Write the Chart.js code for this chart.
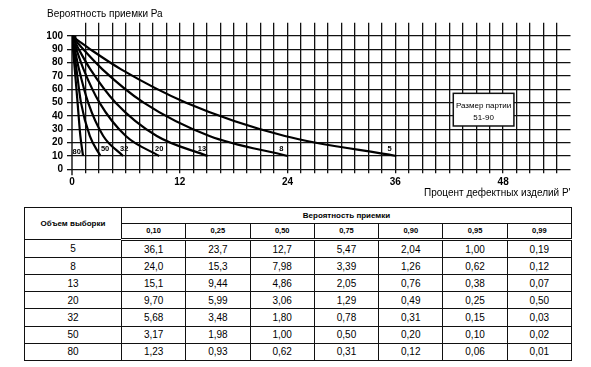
<!DOCTYPE html>
<html><head><meta charset="utf-8">
<script src="https://cdn.jsdelivr.net/npm/chart.js@4"></script>
<style>
html,body{margin:0;padding:0;background:#fff;}
body{width:591px;height:367px;position:relative;overflow:hidden;font-family:"Liberation Sans",Arial,sans-serif;}
#wrap{position:absolute;left:0;top:0;width:591px;height:205px;}
#tbl{position:absolute;left:24px;top:207px;border-collapse:collapse;table-layout:fixed;width:548px;border:1.6px solid #111;}
#tbl td{border:1px solid #111;text-align:center;padding:0;font-size:10px;color:#000;line-height:11px;}
#tbl tr.h1 td{height:14.6px;font-size:8px;font-weight:bold;}
#tbl tr.h2 td{height:14.5px;font-size:7.5px;font-weight:bold;border-bottom:3px double #111;}
#tbl tr.d td{height:16.1px;}
#tbl td.c0{width:96px;}
#status{position:absolute;left:0;top:300px;width:591px;height:10px;font-size:10px;color:transparent;background:transparent;z-index:5;pointer-events:none;}
</style>
</head><body>
<div id="wrap"><canvas id="c" width="591" height="205"></canvas></div>
<table id="tbl"></table>
<div id="status"></div>
<script>
let errs = [];
window.onerror = (m) => { errs.push(m); };
// ---- data ----
const sampleSizes = [5, 8, 13, 20, 32, 50, 80];
const acceptProbs = [0.10, 0.25, 0.50, 0.75, 0.90, 0.95, 0.99];
const p5  = [36.1, 23.7, 12.7, 5.47, 2.04, 1.00, 0.19];
const p8  = [24.0, 15.3, 7.98, 3.39, 1.26, 0.62, 0.12];
const p13 = [15.1, 9.44, 4.86, 2.05, 0.76, 0.38, 0.07];
const p20 = [9.70, 5.99, 3.06, 1.29, 0.49, 0.25, 0.50];
const p32 = [5.68, 3.48, 1.80, 0.78, 0.31, 0.15, 0.03];
const p50 = [3.17, 1.98, 1.00, 0.50, 0.20, 0.10, 0.02];
const p80 = [1.23, 0.93, 0.62, 0.31, 0.12, 0.06, 0.01];
const zeroDefectPoint = {x: 0, y: 100};
const xTickLabels = [0, 12, 24, 36, 48];
const yTickLabels = [0, 10, 20, 30, 40, 50, 60, 70, 80, 90, 100];
const lotSizeText = ['Размер партии', '51-90'];
const yTitle = 'Вероятность приемки Ра';
const xTitle = "Процент дефектных изделий P'";
const tableHeadSample = 'Объем выборки';
const tableHeadProb = 'Вероятность приемки';
const series = [p5, p8, p13, p20, p32, p50, p80];

// ---- presentation (not data) ----
const labelOffsets = [
  {dx:-6.6, dy:-7.5}, {dx:-6.3, dy:-7.5}, {dx:-5.7, dy:-7.5}, {dx:0, dy:-7.5},
  {dx:1.2, dy:-7.5}, {dx:4.6, dy:-7.5}, {dx:-6.3, dy:-4}
];
const fmtVal = v => (v >= 10 ? v.toFixed(1) : v.toFixed(2)).replace('.', ',');
function buildCurve(vals){
  const pts = [zeroDefectPoint];
  for (let k = acceptProbs.length - 1; k >= 0; k--) pts.push({x: vals[k], y: acceptProbs[k] * 100});
  return pts;
}
let log = [];
const ocDecor = {
  id: 'ocDecor',
  beforeDatasetsDraw(chart){
    const ctx = chart.ctx, xs = chart.scales.x, ys = chart.scales.y;
    log.push('bdd items=' + (xs._gridLineItems ? xs._gridLineItems.length : 'none'));
    ctx.save();
    ctx.strokeStyle = '#111'; ctx.lineWidth = 1.4;
    const x0 = xs.getPixelForValue(0);
    ctx.beginPath(); ctx.moveTo(x0, ys.getPixelForValue(100)); ctx.lineTo(x0, ys.getPixelForValue(0) + 6); ctx.stroke();
    ctx.restore();
  },
  afterDatasetsDraw(chart){
    const ctx = chart.ctx, xs = chart.scales.x, ys = chart.scales.y;
    ctx.save();
    ctx.fillStyle = '#000'; ctx.font = 'bold 7.5px "Liberation Sans"'; ctx.textAlign = 'center'; ctx.textBaseline = 'middle';
    sampleSizes.forEach((n, i) => {
      ctx.fillText(String(n), xs.getPixelForValue(series[i][0]) + labelOffsets[i].dx, ys.getPixelForValue(acceptProbs[0] * 100) + labelOffsets[i].dy);
    });
    const l = xs.getPixelForValue(42.45), r = xs.getPixelForValue(49.2);
    const t = ys.getPixelForValue(57.0), b = ys.getPixelForValue(32.5);
    log.push('box ' + [l, r, t, b].map(v => v.toFixed(1)).join(','));
    ctx.fillStyle = '#fff'; ctx.fillRect(l, t, r - l, b - t);
    ctx.strokeStyle = '#111'; ctx.lineWidth = 1.5; ctx.strokeRect(l, t, r - l, b - t);
    ctx.fillStyle = '#000'; ctx.font = '8px "Liberation Sans"';
    const cx = (l + r) / 2;
    ctx.fillText(lotSizeText[0], cx, t + 12); ctx.fillText(lotSizeText[1], cx, t + 24.5);
    ctx.restore();
  }
};
let ch;
try {
ch = new Chart(document.getElementById('c'), {
  type: 'line',
  data: {datasets: sampleSizes.map((n, i) => ({label: String(n), data: buildCurve(series[i]), borderColor: '#000', borderWidth: 2.2, pointRadius: 0, fill: false, cubicInterpolationMode: 'monotone'}))},
  options: {
    responsive: false, animation: false,
    layout: {padding: {left: 47, right: 20.5, top: 0, bottom: 0}},
    plugins: {legend: {display: false}, tooltip: {enabled: false},
      title: {display: true, text: yTitle, align: 'start', color: '#000', font: {family: 'Liberation Sans', size: 10, weight: 'normal'}, padding: {top: 8, bottom: 2.7}}},
    scales: {
      x: {type: 'linear', min: 0, max: 55.5, afterFit: s => { s.height = 35.7; }, border: {display: false},
        grid: {color: c => (c.tick && (c.tick.value === 0 || c.tick.value >= 55.5)) ? 'rgba(0,0,0,0)' : '#111', lineWidth: 1.3, tickLength: 4},
        ticks: {stepSize: 1.5, autoSkip: false, maxRotation: 0, padding: 3, color: '#000', font: {family: 'Liberation Sans', size: 10, weight: 'bold'}, callback: v => xTickLabels.includes(v) ? String(v) : ''},
        title: {display: true, text: xTitle, align: 'end', color: '#000', font: {family: 'Liberation Sans', size: 10}, padding: {top: 0, bottom: 5.5}}},
      y: {min: 0, max: 110, afterFit: s => { s.width = 25; }, border: {display: false},
        grid: {color: c => (c.tick && c.tick.value > 100) ? 'rgba(0,0,0,0)' : '#111', lineWidth: 1.3, tickLength: 5},
        ticks: {stepSize: 10, autoSkip: false, padding: 4, color: '#000', font: {family: 'Liberation Sans', size: 10, weight: 'bold'}, callback: v => yTickLabels.includes(v) ? String(v) : ''}}
    }
  },
  plugins: [ocDecor]
});
} catch(e) { errs.push('E:' + e); }

// ---- table built from the same arrays ----
const tblEl = document.getElementById('tbl');
let rowsHtml = '<tr class="h1"><td class="c0" rowspan="2">' + tableHeadSample + '</td><td colspan="7">' + tableHeadProb + '</td></tr>';
rowsHtml += '<tr class="h2">' + acceptProbs.map(p => '<td>' + p.toFixed(2).replace('.', ',') + '</td>').join('') + '</tr>';
sampleSizes.forEach((n, i) => { rowsHtml += '<tr class="d"><td class="c0">' + n + '</td>' + series[i].map(v => '<td>' + fmtVal(v) + '</td>').join('') + '</tr>'; });
tblEl.innerHTML = rowsHtml;

// keep a reference and refresh the canvas once the page has settled
const xx = ch.scales.x;
const gridItems = xx._gridLineItems || [];
const statusInfo = 'ticks=' + xx.ticks.length + ' grid=' + gridItems.length + ' errs=' + errs.length + ' log=' + log.length;
document.getElementById('status').textContent = '\u00a0';
requestAnimationFrame(() => { if (ch) ch.draw(); });
setTimeout(() => { if (ch) ch.draw(); }, 50);
</script>
</body></html>
